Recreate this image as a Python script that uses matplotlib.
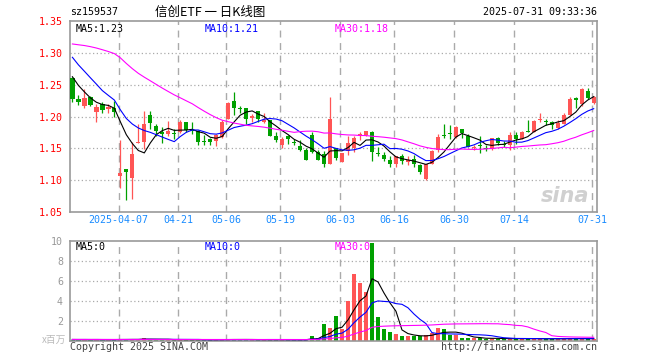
import matplotlib
matplotlib.use('Agg')
import matplotlib.pyplot as plt
import numpy as np

# daily candles, 2025-03-26 .. 2025-07-31 (88 trading days)
opens = [1.260, 1.227, 1.217, 1.230, 1.207, 1.220, 1.212, 1.213, 1.107, 1.117,
         1.103, 1.159, 1.160, 1.202, 1.185, 1.175, 1.172, 1.174, 1.175, 1.191,
         1.179, 1.178, 1.162, 1.165, 1.162, 1.168, 1.196, 1.225, 1.213, 1.213,
         1.197, 1.209, 1.191, 1.194, 1.170, 1.156, 1.169, 1.160, 1.154, 1.147,
         1.171, 1.144, 1.141, 1.126, 1.150, 1.129, 1.146, 1.150, 1.169, 1.171,
         1.175, 1.143, 1.140, 1.131, 1.126, 1.138, 1.129, 1.133, 1.124, 1.102,
         1.125, 1.147, 1.171, 1.174, 1.168, 1.181, 1.170, 1.150, 1.155, 1.151,
         1.149, 1.167, 1.157, 1.155, 1.171, 1.165, 1.178, 1.176, 1.194, 1.193,
         1.192, 1.182, 1.189, 1.203, 1.229, 1.219, 1.240, 1.221]
highs = [1.262, 1.233, 1.243, 1.232, 1.220, 1.223, 1.220, 1.224, 1.163, 1.118,
         1.160, 1.188, 1.208, 1.208, 1.189, 1.183, 1.193, 1.181, 1.194, 1.191,
         1.192, 1.179, 1.171, 1.167, 1.173, 1.194, 1.222, 1.238, 1.217, 1.213,
         1.204, 1.209, 1.206, 1.195, 1.175, 1.168, 1.171, 1.164, 1.163, 1.151,
         1.175, 1.147, 1.146, 1.230, 1.150, 1.142, 1.169, 1.170, 1.175, 1.178,
         1.178, 1.152, 1.145, 1.138, 1.138, 1.141, 1.138, 1.140, 1.125, 1.126,
         1.148, 1.173, 1.189, 1.187, 1.185, 1.181, 1.172, 1.156, 1.170, 1.155,
         1.167, 1.168, 1.162, 1.175, 1.175, 1.178, 1.194, 1.194, 1.206, 1.196,
         1.193, 1.194, 1.205, 1.230, 1.230, 1.244, 1.245, 1.232]
lows = [1.223, 1.218, 1.214, 1.216, 1.191, 1.205, 1.205, 1.200, 1.087, 1.069,
        1.070, 1.159, 1.149, 1.180, 1.170, 1.159, 1.170, 1.165, 1.174, 1.175,
        1.173, 1.156, 1.156, 1.155, 1.153, 1.167, 1.196, 1.203, 1.205, 1.188,
        1.192, 1.191, 1.190, 1.169, 1.160, 1.150, 1.157, 1.155, 1.146, 1.131,
        1.143, 1.131, 1.120, 1.125, 1.131, 1.128, 1.140, 1.145, 1.163, 1.170,
        1.130, 1.138, 1.130, 1.121, 1.120, 1.126, 1.124, 1.121, 1.110, 1.101,
        1.125, 1.145, 1.167, 1.164, 1.167, 1.167, 1.152, 1.147, 1.142, 1.146,
        1.148, 1.155, 1.152, 1.148, 1.157, 1.164, 1.175, 1.175, 1.191, 1.187,
        1.180, 1.181, 1.188, 1.202, 1.214, 1.216, 1.228, 1.220]
closes = [1.228, 1.222, 1.229, 1.218, 1.215, 1.210, 1.215, 1.207, 1.112, 1.113,
          1.141, 1.160, 1.188, 1.190, 1.178, 1.173, 1.178, 1.172, 1.192, 1.179,
          1.178, 1.160, 1.160, 1.160, 1.171, 1.192, 1.221, 1.214, 1.212, 1.196,
          1.201, 1.196, 1.195, 1.170, 1.163, 1.165, 1.165, 1.158, 1.147, 1.132,
          1.144, 1.132, 1.125, 1.196, 1.135, 1.142, 1.158, 1.166, 1.172, 1.177,
          1.144, 1.141, 1.134, 1.126, 1.138, 1.130, 1.131, 1.125, 1.113, 1.125,
          1.146, 1.168, 1.169, 1.172, 1.183, 1.174, 1.152, 1.152, 1.154, 1.149,
          1.166, 1.158, 1.155, 1.171, 1.165, 1.175, 1.176, 1.193, 1.196, 1.191,
          1.187, 1.190, 1.203, 1.228, 1.226, 1.243, 1.229, 1.230]
# closes of the 29 days before the window, only needed for the moving averages
prev_closes = [1.260, 1.265, 1.270, 1.280, 1.290, 1.300, 1.305, 1.310,
               1.380, 1.385, 1.380, 1.370, 1.360, 1.350, 1.345, 1.340,
               1.330, 1.330, 1.320, 1.318, 1.340, 1.330, 1.320, 1.315,
               1.3125, 1.290, 1.280, 1.265, 1.2495]

# volume, x 1,000,000
volumes = [0.15, 0.14, 0.16, 0.14, 0.15, 0.13, 0.14, 0.15, 0.17, 0.16,
           0.16, 0.15, 0.30, 0.15, 0.14, 0.13, 0.14, 0.13, 0.15, 0.14,
           0.13, 0.14, 0.13, 0.13, 0.14, 0.15, 0.17, 0.16, 0.14, 0.15,
           0.13, 0.14, 0.13, 0.15, 0.14, 0.13, 0.13, 0.12, 0.14, 0.15,
           0.47, 0.30, 1.67, 1.27, 2.47, 1.17, 3.97, 6.70, 5.80, 4.87,
           9.80, 2.37, 1.17, 0.87, 0.67, 0.47, 0.53, 0.47, 0.47, 0.60,
           0.80, 1.27, 1.17, 0.60, 0.60, 0.27, 0.27, 0.27, 0.33, 0.25,
           0.22, 0.25, 0.20, 0.25, 0.22, 0.25, 0.22, 0.25, 0.22, 0.20,
           0.22, 0.25, 0.22, 0.28, 0.22, 0.25, 0.22, 0.25]
prev_volumes = [0.16, 0.15, 0.17, 0.15, 0.16, 0.14, 0.15, 0.16, 0.17, 0.18,
                0.17, 0.16, 0.18, 0.17, 0.16, 0.15, 0.17, 0.16, 0.15, 0.16,
                0.15, 0.14, 0.16, 0.15, 0.14, 0.15, 0.16, 0.15, 0.14]

tick_idx = [8, 18, 26, 35, 45, 54, 64, 74, 87]
tick_labels = ['2025-04-07', '04-21', '05-06', '05-19', '06-03', '06-16',
               '06-30', '07-14', '07-31']
price_grid = [1.10, 1.15, 1.20, 1.25, 1.30]
price_ticks = [1.05, 1.10, 1.15, 1.20, 1.25, 1.30, 1.35]
vol_ticks = [2, 4, 6, 8, 10]

RED = '#ff5555'
GREEN = '#00a000'
GRID = '#aaaaaa'
FRAME = '#999999'
FS = 7.2

plt.rcParams['font.family'] = ['DejaVu Sans Mono', 'Noto Sans CJK SC']

W, H = 660, 360
fig = plt.figure(figsize=(W / 100, H / 100), dpi=100)


def px_axes(left, top, right, bottom):
    return fig.add_axes([left / W, 1 - bottom / H, (right - left) / W, (bottom - top) / H])


def moving_avg(prev, vals, n):
    s = np.array(prev + vals, dtype=float)
    out = np.convolve(s, np.ones(n) / n, mode='valid')
    return out[-len(vals):]


def fig_text(x, y, s, **kw):
    fig.text(x / W, 1 - y / H, s, **kw)


x = np.arange(len(closes))
o, h, l, c = map(np.array, (opens, highs, lows, closes))
up = c >= o
colors = np.where(up, RED, GREEN)

ax = px_axes(70, 21, 597, 212)
axv = px_axes(70, 241, 597, 341)
xlim = (-0.4, len(closes) - 0.45)
grid_x = [i - 0.3 for i in tick_idx]

# price panel
for yv in price_grid:
    ax.axhline(yv, color=GRID, lw=0.9, ls=(0, (1, 2)), zorder=0)
for gx in grid_x:
    ax.axvline(gx, color=GRID, lw=1.0, ls=(0, (5, 4)), zorder=0)

ax.vlines(x, l, h, colors=colors, lw=0.9, zorder=2)
body_bot = np.minimum(o, c)
body_h = np.maximum(np.abs(c - o), 0.0009)
ax.bar(x, body_h, bottom=body_bot, width=0.72, color=colors, lw=0, zorder=3)

ma5 = moving_avg(prev_closes, closes, 5)
ma10 = moving_avg(prev_closes, closes, 10)
ma30 = moving_avg(prev_closes, closes, 30)
ax.plot(x, ma5, color='black', lw=0.8, zorder=4)
ax.plot(x, ma10, color='#0000ff', lw=0.8, zorder=4)
ax.plot(x, ma30, color='#ff00ff', lw=0.8, zorder=4)

ax.set_xlim(*xlim)
ax.set_ylim(1.05, 1.35)
ax.set_yticks(price_ticks)
ax.set_yticklabels([f'{v:.2f}' for v in price_ticks])
ax.set_xticks(grid_x)
ax.set_xticklabels(tick_labels)
ax.tick_params(axis='y', length=0, pad=5, labelcolor='#ff0000', labelsize=FS)
ax.tick_params(axis='x', length=0, pad=2.5, labelcolor='#1a8cff', labelsize=FS)
for sp in ax.spines.values():
    sp.set_color(FRAME)
    sp.set_linewidth(1.2)

ax.text(0.01, 0.985, f'MA5:{ma5[-1]:.2f}', transform=ax.transAxes, color='black',
        fontsize=FS, va='top', ha='left')
ax.text(135 / 527, 0.985, f'MA10:{ma10[-1]:.2f}', transform=ax.transAxes, color='#0000ff',
        fontsize=FS, va='top', ha='left')
ax.text(265 / 527, 0.985, f'MA30:{ma30[-1]:.2f}', transform=ax.transAxes, color='#ff00ff',
        fontsize=FS, va='top', ha='left')
ax.text(0.985, 0.03, 'sina', transform=ax.transAxes, color='#d0d0d0', fontsize=15,
        fontweight='bold', style='italic', ha='right', va='bottom', family='DejaVu Sans')

# volume panel
for yv in vol_ticks[:-1]:
    axv.axhline(yv, color=GRID, lw=0.9, ls=(0, (1, 2)), zorder=0)
for gx in grid_x:
    axv.axvline(gx, color=GRID, lw=1.0, ls=(0, (5, 4)), zorder=0)

axv.bar(x, volumes, width=0.72, color=colors, lw=0, zorder=2)
vma5 = moving_avg(prev_volumes, volumes, 5)
vma10 = moving_avg(prev_volumes, volumes, 10)
vma30 = moving_avg(prev_volumes, volumes, 30)
axv.plot(x, vma5, color='black', lw=0.8, zorder=4)
axv.plot(x, vma10, color='#0000ff', lw=0.8, zorder=4)
axv.plot(x, vma30, color='#ff00ff', lw=0.8, zorder=4)

axv.set_xlim(*xlim)
axv.set_ylim(0, 10)
axv.set_xticks([])
axv.set_yticks(vol_ticks)
axv.set_yticklabels([str(v) for v in vol_ticks])
axv.tick_params(axis='y', length=0, pad=5, labelcolor='#999999', labelsize=FS)
for sp in axv.spines.values():
    sp.set_color(FRAME)
    sp.set_linewidth(1.2)

axv.text(0.01, 0.985, 'MA5:0', transform=axv.transAxes, color='black',
         fontsize=FS, va='top', ha='left')
axv.text(135 / 527, 0.985, 'MA10:0', transform=axv.transAxes, color='#0000ff',
         fontsize=FS, va='top', ha='left')
axv.text(265 / 527, 0.985, 'MA30:0', transform=axv.transAxes, color='#ff00ff',
         fontsize=FS, va='top', ha='left')

# header / footer
fig_text(70, 12, 'sz159537', fontsize=FS, va='center', ha='left', color='black')
fig_text(210, 12, '信创ETF 一 日K线图', fontsize=9, va='center', ha='center', color='black',
         family=['Noto Sans CJK SC', 'DejaVu Sans Mono'])
fig_text(597, 12, '2025-07-31 09:33:36', fontsize=FS, va='center', ha='right', color='black')
fig_text(66, 340, 'x百万', fontsize=7, va='center', ha='right', color='#bbbbbb',
         family=['Noto Sans CJK SC', 'DejaVu Sans Mono'])
fig_text(70, 347, 'Copyright 2025 SINA.COM', fontsize=FS, va='center', ha='left', color='#444444')
fig_text(597, 347, 'http://finance.sina.com.cn', fontsize=FS, va='center', ha='right',
         color='#444444')

fig.savefig('out.png', dpi=100, facecolor='white')
